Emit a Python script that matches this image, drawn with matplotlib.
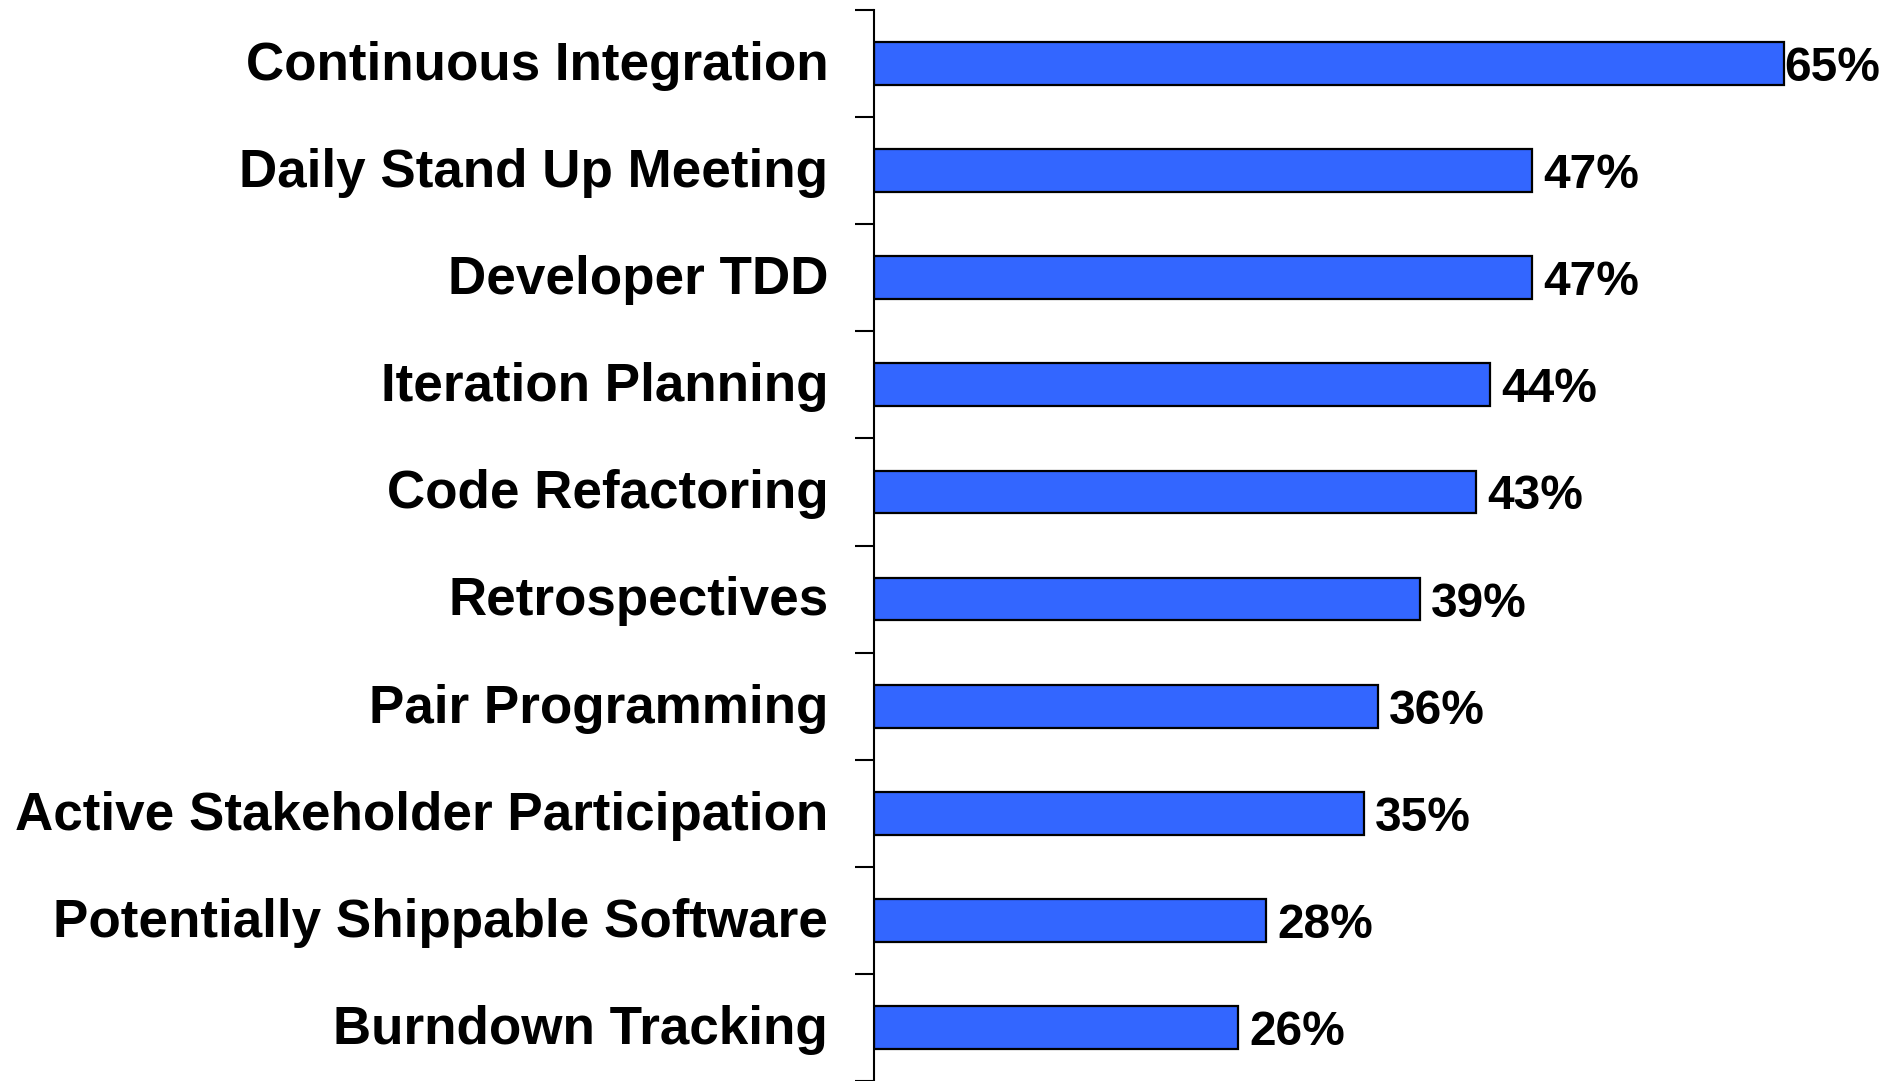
import matplotlib
matplotlib.use("Agg")
import matplotlib.pyplot as plt
import matplotlib.transforms as mtransforms
import numpy as np

practices = ["Continuous Integration", "Daily Stand Up Meeting", "Developer TDD",
             "Iteration Planning", "Code Refactoring", "Retrospectives",
             "Pair Programming", "Active Stakeholder Participation",
             "Potentially Shippable Software", "Burndown Tracking"]
percents = [65, 47, 47, 44, 43, 39, 36, 35, 28, 26]

plt.rcParams['font.family'] = ['Liberation Sans', 'DejaVu Sans']

fig = plt.figure(figsize=(18.81, 10.81), dpi=100)
ax = fig.add_axes([874 / 1881, 0.0, 1 - 874 / 1881, 1 - 10 / 1081])

y = np.arange(len(practices))
ax.barh(y, percents, height=0.4, color="#3366FF", edgecolor="black", linewidth=1.6)

ax.set_ylim(len(practices) - 0.5, -0.5)
ax.set_xlim(0, (1881 - 874) / 14.0)

ax.set_yticks(y)
ax.set_yticklabels(practices, fontsize=38.2, fontweight="bold", va="center")
ax.tick_params(axis="y", which="major", length=0, pad=33)
ax.set_yticks(np.arange(-0.5, len(practices) + 0.5, 1), minor=True)
ax.tick_params(axis="y", which="minor", length=13.7, width=1.5, direction="out")
ax.set_xticks([])

# nudge the category labels down a touch
shift = mtransforms.ScaledTranslation(0, -2.4 / 100, fig.dpi_scale_trans)
for lab in ax.get_yticklabels():
    lab.set_transform(lab.get_transform() + shift)

for s in ["top", "right", "bottom"]:
    ax.spines[s].set_visible(False)
ax.spines["left"].set_linewidth(1.5)

top = max(percents)
for yi, v in zip(y, percents):
    off = 0 if v == top else 8
    ax.annotate(f"{v}%", xy=(v, yi), xytext=(off, 0), textcoords="offset points",
                va="center_baseline", ha="left", fontsize=34.5, fontweight="bold")

fig.savefig("out.png", dpi=100)
